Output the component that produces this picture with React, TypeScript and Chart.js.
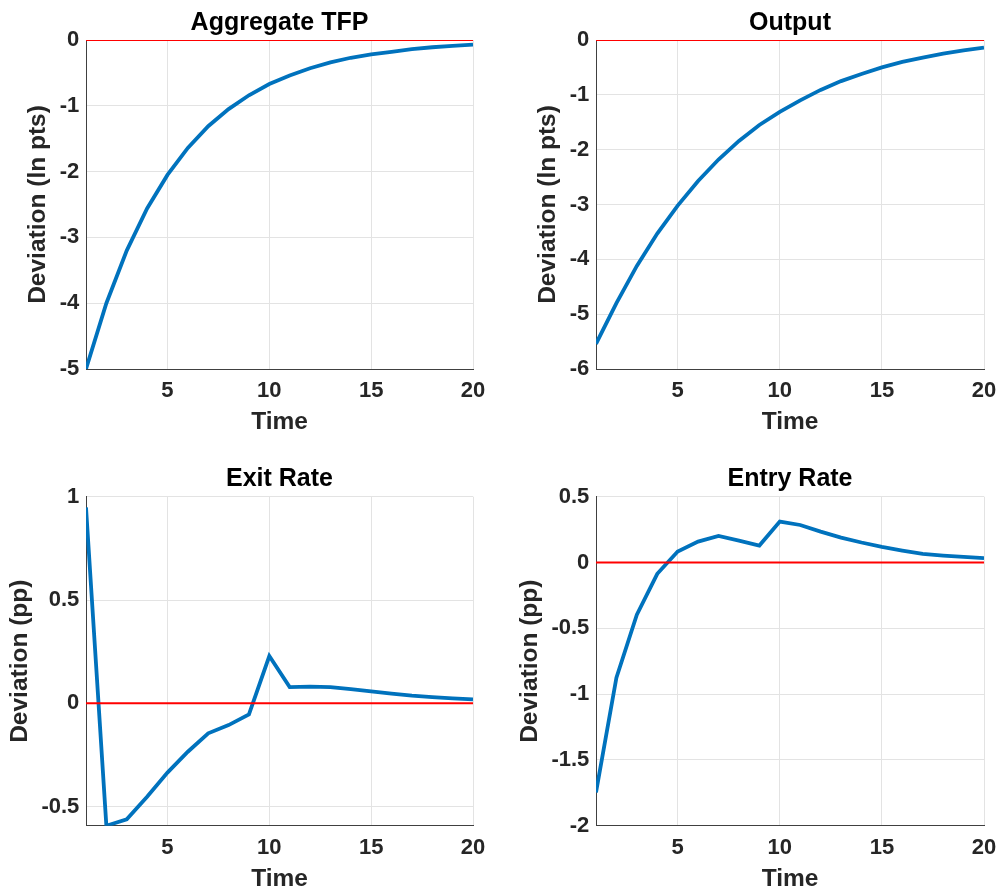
import React, { useEffect, useRef } from "react";
import { Chart, registerables } from "chart.js";

Chart.register(...registerables);

// ---- data ----
const time = [1, 2, 3, 4, 5, 6, 7, 8, 9, 10, 11, 12, 13, 14, 15, 16, 17, 18, 19, 20];
const tfpValues = [-5.0, -4.0, -3.2, -2.56, -2.05, -1.64, -1.31, -1.05, -0.84, -0.67, -0.54, -0.43, -0.34, -0.27, -0.22, -0.18, -0.14, -0.11, -0.09, -0.07];
const outputValues = [-5.54, -4.8, -4.12, -3.53, -3.02, -2.57, -2.18, -1.84, -1.55, -1.31, -1.1, -0.91, -0.75, -0.62, -0.5, -0.4, -0.32, -0.25, -0.19, -0.14];
const exitValues = [0.948, -0.592, -0.561, -0.452, -0.335, -0.234, -0.145, -0.105, -0.053, 0.229, 0.079, 0.081, 0.079, 0.069, 0.058, 0.047, 0.037, 0.03, 0.024, 0.019];
const entryValues = [-1.747, -0.876, -0.396, -0.086, 0.083, 0.159, 0.202, 0.167, 0.129, 0.311, 0.285, 0.235, 0.189, 0.152, 0.119, 0.091, 0.066, 0.053, 0.043, 0.033];
const zeroValues = [0, 0, 0, 0, 0, 0, 0, 0, 0, 0, 0, 0, 0, 0, 0, 0, 0, 0, 0, 0];

const xTicks = [5, 10, 15, 20];
const tfpTicks = [-5, -4, -3, -2, -1, 0];
const outputTicks = [-6, -5, -4, -3, -2, -1, 0];
const exitTicks = [-0.5, 0, 0.5, 1];
const entryTicks = [-2, -1.5, -1, -0.5, 0, 0.5];

const titles = ["Aggregate TFP", "Output", "Exit Rate", "Entry Rate"];
const yLabels = ["Deviation (ln pts)", "Deviation (ln pts)", "Deviation (pp)", "Deviation (pp)"];

// ---- layout (pixels within each 500x444 quadrant) ----
const panels = [
  { title: titles[0], yLabel: yLabels[0], values: tfpValues, yTicks: tfpTicks, yMin: -5, yMax: 0, left: 0, top: 0, padTop: 40, padRight: 27, yWidth: 86, xHeight: 75, xTitlePad: 6.6, yTitlePad: 23.3 },
  { title: titles[1], yLabel: yLabels[1], values: outputValues, yTicks: outputTicks, yMin: -6, yMax: 0, left: 500, top: 0, padTop: 40, padRight: 16, yWidth: 96, xHeight: 75, xTitlePad: 6.6, yTitlePad: 33.6 },
  { title: titles[2], yLabel: yLabels[2], values: exitValues, yTicks: exitTicks, yMin: -0.592, yMax: 1, left: 0, top: 444, padTop: 52.7, padRight: 27, yWidth: 86, xHeight: 62.3, xTitlePad: -6, yTitlePad: 5.3 },
  { title: titles[3], yLabel: yLabels[3], values: entryValues, yTicks: entryTicks, yMin: -2, yMax: 0.5, left: 500, top: 444, padTop: 52.7, padRight: 16, yWidth: 96, xHeight: 62.3, xTitlePad: -6, yTitlePad: 15.3 },
];

const FAMILY = "'Liberation Sans', Arial, Helvetica, sans-serif";

const panelTitlePlugin = {
  id: "panelTitle",
  afterDraw(chart: any, _args: any, opts: any) {
    const { ctx, chartArea } = chart;
    ctx.save();
    ctx.font = `bold 25px ${FAMILY}`;
    ctx.fillStyle = "#000000";
    ctx.textAlign = "center";
    ctx.textBaseline = "middle";
    ctx.fillText(opts.text, (chartArea.left + chartArea.right) / 2, chartArea.top - 17.3);
    ctx.restore();
  },
};

function makeChart(canvas: HTMLCanvasElement, p: any) {
  return new Chart(canvas, {
    type: "line",
    data: {
      datasets: [
        {
          data: time.map((t, i) => ({ x: t, y: zeroValues[i] })),
          borderColor: "#FF0000",
          borderWidth: 2,
          pointRadius: 0,
          order: 0,
        },
        {
          data: time.map((t, i) => ({ x: t, y: p.values[i] })),
          borderColor: "#0072BD",
          borderWidth: 3.8,
          pointRadius: 0,
          tension: 0,
          order: 1,
        },
      ],
    },
    options: {
      responsive: false,
      animation: false,
      events: [],
      layout: { padding: { top: p.padTop, right: p.padRight, left: 0, bottom: 0 } },
      plugins: {
        legend: { display: false },
        tooltip: { enabled: false },
        title: { display: false },
        panelTitle: { text: p.title },
      } as any,
      scales: {
        x: {
          type: "linear",
          min: 1,
          max: 20,
          afterBuildTicks: (s: any) => {
            s.ticks = xTicks.map((v) => ({ value: v }));
          },
          afterFit: (s: any) => {
            s.height = p.xHeight;
            s.paddingLeft = 0;
            s.paddingRight = 0;
          },
          grid: { color: "#e3e3e3", drawTicks: false, lineWidth: 1 },
          border: { color: "#404040", width: 1 },
          ticks: {
            padding: 8.6,
            color: "#262626",
            maxRotation: 0,
            autoSkip: false,
            font: { family: FAMILY, size: 22, weight: "bold", lineHeight: 1.2 },
            callback: (v: any) => String(v),
          },
          title: {
            display: true,
            text: "Time",
            color: "#262626",
            font: { family: FAMILY, size: 24.5, weight: "bold", lineHeight: 1.2 },
            padding: { top: 0, bottom: p.xTitlePad },
          },
        },
        y: {
          type: "linear",
          min: p.yMin,
          max: p.yMax,
          afterBuildTicks: (s: any) => {
            s.ticks = p.yTicks.map((v: number) => ({ value: v }));
          },
          afterFit: (s: any) => {
            s.width = p.yWidth;
            s.paddingTop = 0;
            s.paddingBottom = 0;
          },
          grid: { color: "#e3e3e3", drawTicks: false, lineWidth: 1 },
          border: { color: "#404040", width: 1 },
          ticks: {
            padding: 6.7,
            color: "#262626",
            autoSkip: false,
            font: { family: FAMILY, size: 22, weight: "bold", lineHeight: 1.2 },
            callback: (v: any) => String(v),
          },
          title: {
            display: true,
            text: p.yLabel,
            color: "#262626",
            font: { family: FAMILY, size: 24.5, weight: "bold", lineHeight: 1.2 },
            padding: { top: p.yTitlePad, bottom: 0 },
          },
        },
      },
    } as any,
    plugins: [panelTitlePlugin as any],
  });
}

function Panel({ p }: { p: any }) {
  const ref = useRef<HTMLCanvasElement | null>(null);
  useEffect(() => {
    if (!ref.current) return;
    const chart = makeChart(ref.current, p);
    return () => chart.destroy();
  }, [p]);
  return (
    <canvas
      ref={ref}
      width={500}
      height={444}
      style={{ position: "absolute", left: p.left, top: p.top, width: 500, height: 444 }}
    />
  );
}

export default function App() {
  return (
    <div style={{ position: "fixed", left: 0, top: 0, width: 1000, height: 888, background: "#ffffff", overflow: "hidden" }}>
      {panels.map((p, i) => (
        <Panel key={i} p={p} />
      ))}
    </div>
  );
}
